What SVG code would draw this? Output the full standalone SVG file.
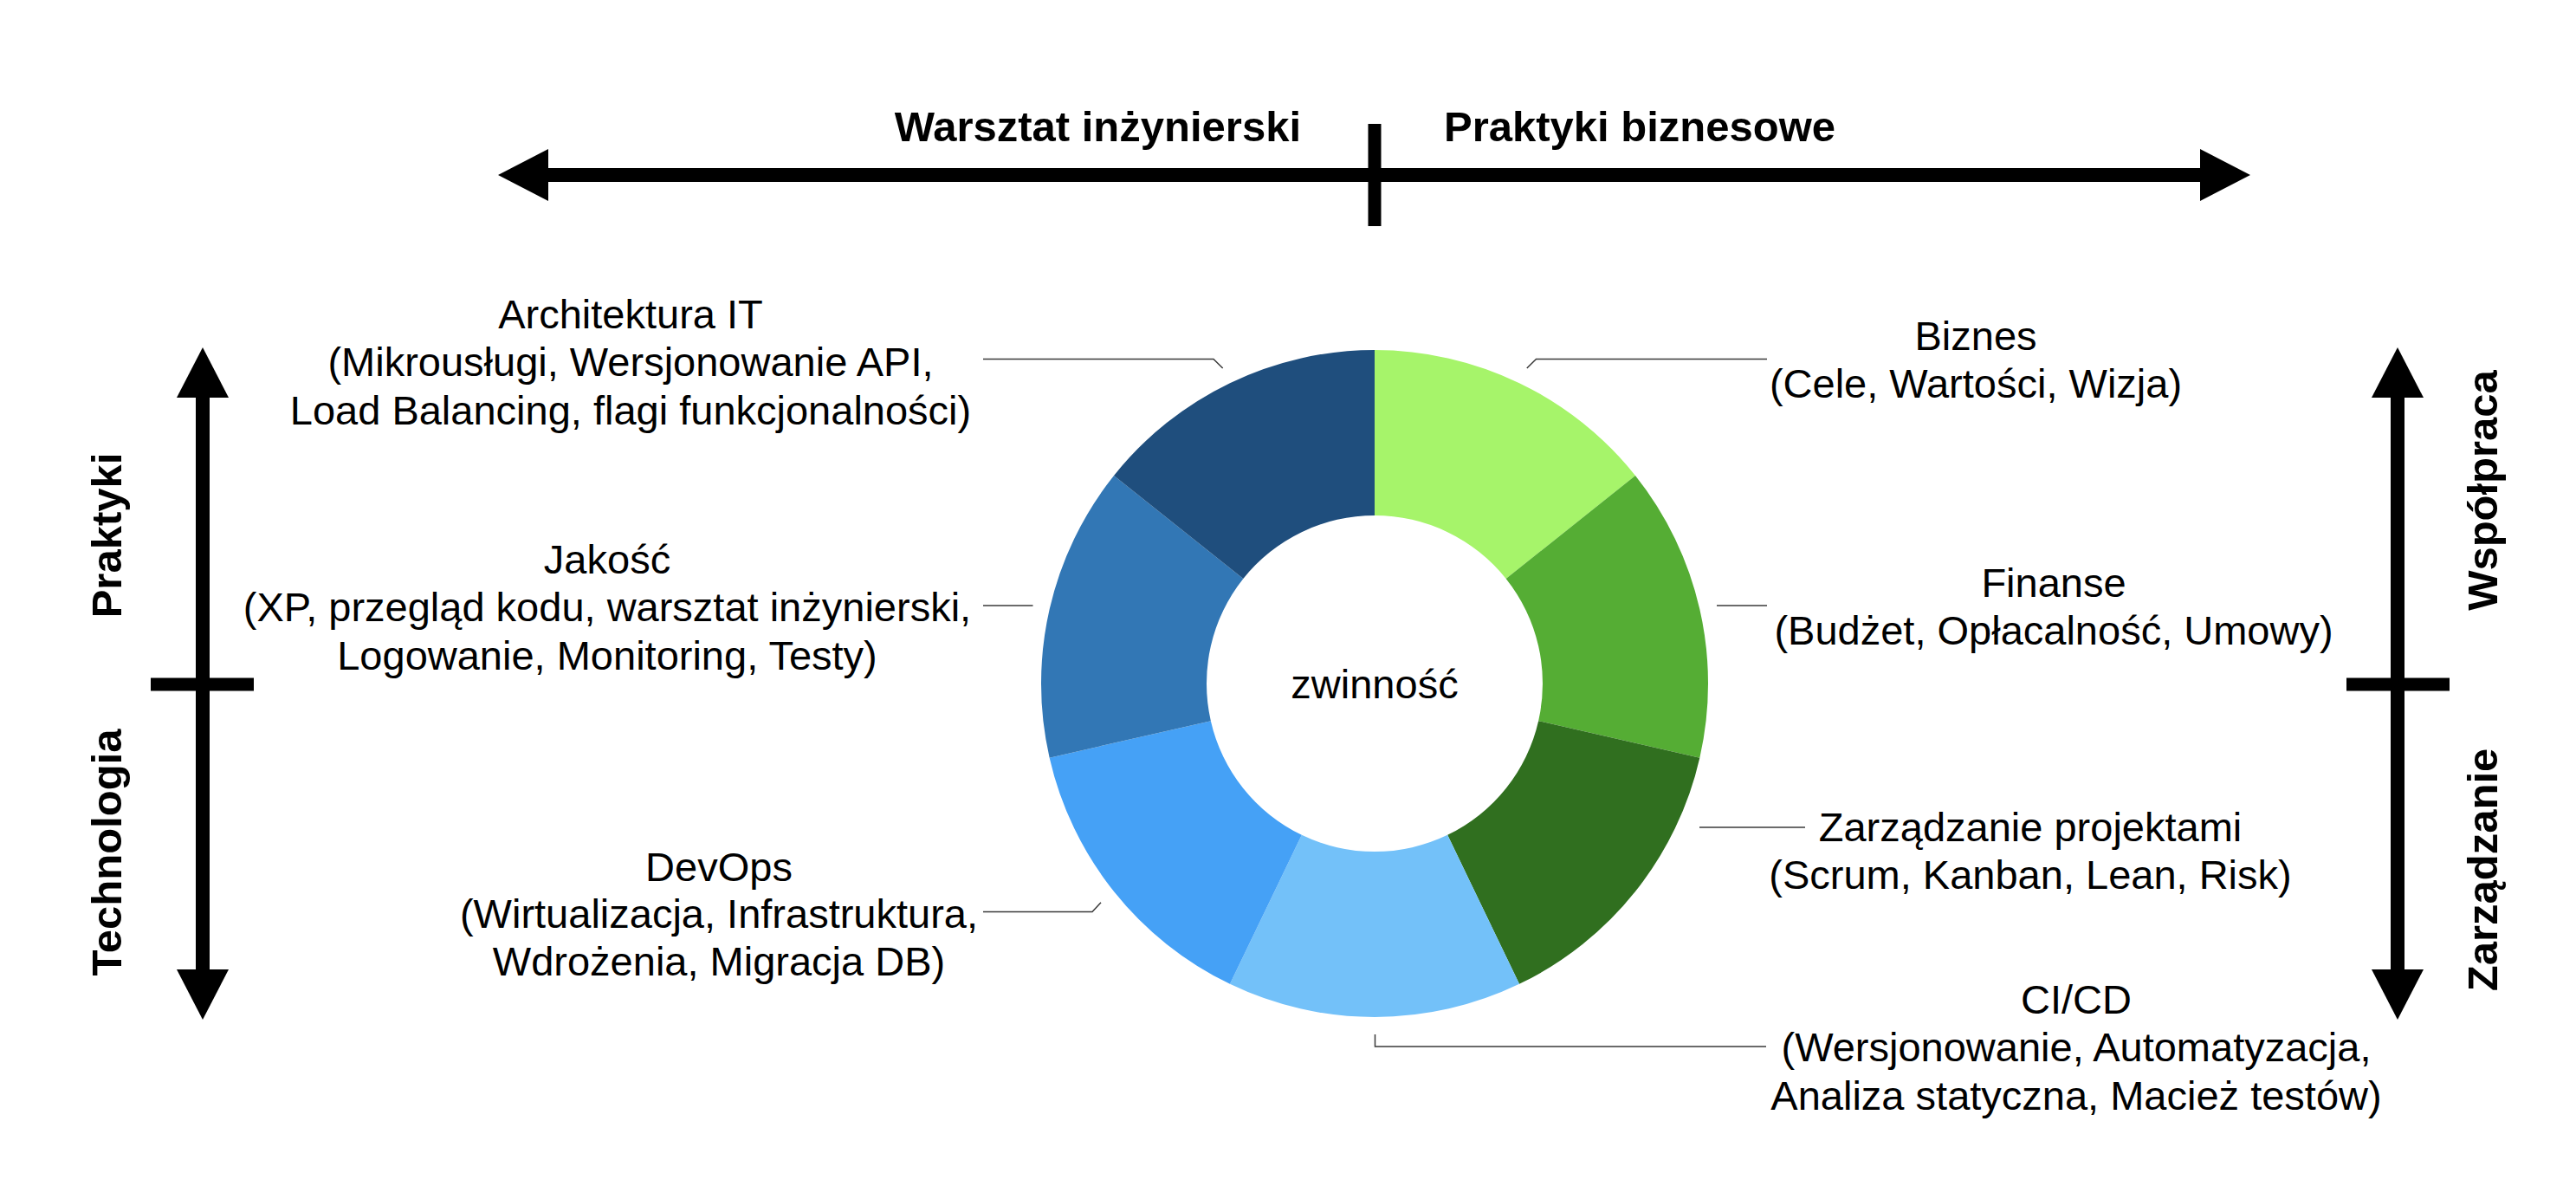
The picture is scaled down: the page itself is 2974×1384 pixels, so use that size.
<svg xmlns="http://www.w3.org/2000/svg" width="2974" height="1384" viewBox="0 0 2974 1384">
  <defs>
    <marker id="head" viewBox="0 0 58 60" markerWidth="58" markerHeight="60" refX="0" refY="30" orient="auto-start-reverse" markerUnits="userSpaceOnUse">
      <path d="M0,0 L58,30 L0,60 Z" fill="#000"/>
    </marker>
    <style>
      .axis { stroke: #000; stroke-width: 16; fill: none; }
      .tick { stroke: #000; stroke-width: 15; fill: none; }
      .bold { font-family: "Liberation Sans", Arial, Helvetica, sans-serif; font-weight: bold; font-size: 49px; fill: #000; }
      .lbl { font-family: "Liberation Sans", Arial, Helvetica, sans-serif; font-size: 47px; fill: #000; text-anchor: middle; }
      .leader { stroke: #3a3a3a; stroke-width: 1.5; fill: none; }
    </style>
  </defs>
  <rect width="2974" height="1384" fill="#fff"/>

  <g id="axes">
    <line class="axis" x1="633" y1="202" x2="2540" y2="202" marker-start="url(#head)" marker-end="url(#head)"/>
    <line class="tick" x1="1587" y1="143" x2="1587" y2="261"/>
    <text class="bold" x="1502" y="163" text-anchor="end">Warsztat inżynierski</text>
    <text class="bold" x="1667" y="163">Praktyki biznesowe</text>

    <line class="axis" x1="234" y1="459" x2="234" y2="1119" marker-start="url(#head)" marker-end="url(#head)"/>
    <line class="tick" x1="174" y1="790" x2="293" y2="790"/>
    <text class="bold" text-anchor="middle" transform="translate(140,618) rotate(-90)">Praktyki</text>
    <text class="bold" text-anchor="middle" transform="translate(140,984) rotate(-90)">Technologia</text>

    <line class="axis" x1="2768" y1="459" x2="2768" y2="1119" marker-start="url(#head)" marker-end="url(#head)"/>
    <line class="tick" x1="2709" y1="790" x2="2828" y2="790"/>
    <text class="bold" text-anchor="middle" transform="translate(2883,566) rotate(-90)">Współpraca</text>
    <text class="bold" text-anchor="middle" transform="translate(2883,1004) rotate(-90)">Zarządzanie</text>
  </g>

  <g id="donut">
    <path id="seg-biznes" fill="#A6F46A" d="M1587,404 A385,385 0 0 1 1888.00,548.96 L1738.67,668.04 A194,194 0 0 0 1587,595 Z"/>
    <path id="seg-finanse" fill="#55AD34" d="M1888.00,548.96 A385,385 0 0 1 1962.35,874.67 L1776.14,832.17 A194,194 0 0 0 1738.67,668.04 Z"/>
    <path id="seg-zarzadzanie" fill="#306F1F" d="M1962.35,874.67 A385,385 0 0 1 1754.04,1135.87 L1671.17,963.79 A194,194 0 0 0 1776.14,832.17 Z"/>
    <path id="seg-cicd" fill="#73C1F9" d="M1754.04,1135.87 A385,385 0 0 1 1419.96,1135.87 L1502.83,963.79 A194,194 0 0 0 1671.17,963.79 Z"/>
    <path id="seg-devops" fill="#45A1F6" d="M1419.96,1135.87 A385,385 0 0 1 1211.65,874.67 L1397.86,832.17 A194,194 0 0 0 1502.83,963.79 Z"/>
    <path id="seg-jakosc" fill="#3277B5" d="M1211.65,874.67 A385,385 0 0 1 1286.00,548.96 L1435.33,668.04 A194,194 0 0 0 1397.86,832.17 Z"/>
    <path id="seg-architektura" fill="#1F4E7D" d="M1286.00,548.96 A385,385 0 0 1 1587,404 L1587,595 A194,194 0 0 0 1435.33,668.04 Z"/>
    <text class="lbl" x="1587" y="806">zwinność</text>
  </g>

  <g id="connectors">
    <path class="leader" d="M1135,414.5 H1401 L1411.7,425"/>
    <path class="leader" d="M1762.8,425 L1773.5,414.5 H2040"/>
    <path class="leader" d="M1135,699 H1192.5"/>
    <path class="leader" d="M1982,699 H2040"/>
    <path class="leader" d="M1962,955 H2084"/>
    <path class="leader" d="M1135,1052.5 H1261 L1271,1041.7"/>
    <path class="leader" d="M1587.5,1194 V1208 H2039"/>
  </g>

  <g id="node-architektura">
    <text class="lbl" x="728" y="379">Architektura IT</text>
    <text class="lbl" x="728" y="434">(Mikrousługi, Wersjonowanie API,</text>
    <text class="lbl" x="728" y="490">Load Balancing, flagi funkcjonalności)</text>
  </g>
  <g id="node-jakosc">
    <text class="lbl" x="701" y="662">Jakość</text>
    <text class="lbl" x="701" y="717">(XP, przegląd kodu, warsztat inżynierski,</text>
    <text class="lbl" x="701" y="773">Logowanie, Monitoring, Testy)</text>
  </g>
  <g id="node-devops">
    <text class="lbl" x="830" y="1017">DevOps</text>
    <text class="lbl" x="830" y="1071">(Wirtualizacja, Infrastruktura,</text>
    <text class="lbl" x="830" y="1126">Wdrożenia, Migracja DB)</text>
  </g>
  <g id="node-biznes">
    <text class="lbl" x="2281" y="404">Biznes</text>
    <text class="lbl" x="2281" y="459">(Cele, Wartości, Wizja)</text>
  </g>
  <g id="node-finanse">
    <text class="lbl" x="2371" y="689">Finanse</text>
    <text class="lbl" x="2371" y="744">(Budżet, Opłacalność, Umowy)</text>
  </g>
  <g id="node-zarzadzanie">
    <text class="lbl" x="2344" y="971">Zarządzanie projektami</text>
    <text class="lbl" x="2344" y="1026">(Scrum, Kanban, Lean, Risk)</text>
  </g>
  <g id="node-cicd">
    <text class="lbl" x="2397" y="1170">CI/CD</text>
    <text class="lbl" x="2397" y="1225">(Wersjonowanie, Automatyzacja,</text>
    <text class="lbl" x="2397" y="1281">Analiza statyczna, Macież testów)</text>
  </g>
</svg>
